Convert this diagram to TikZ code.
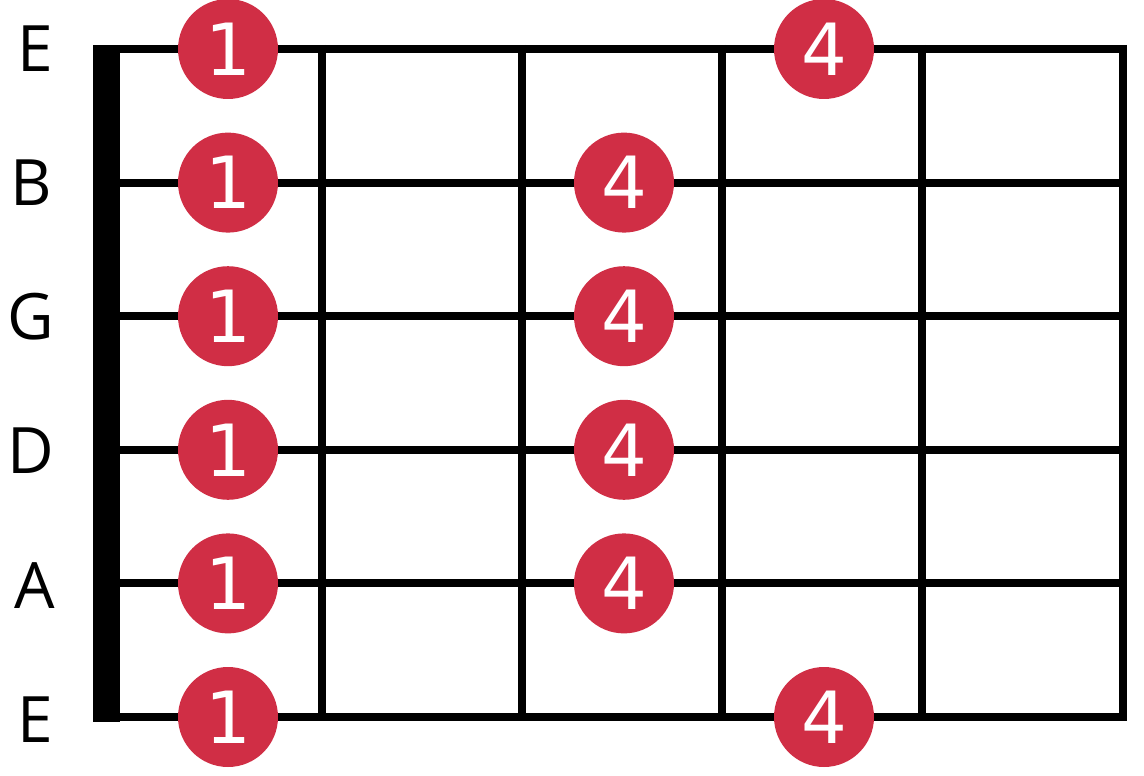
\documentclass[tikz,border=0pt]{standalone}
\usepackage{fontspec}
\setmainfont{DejaVu Sans}
\newfontfamily\labelfont{Open Sans}
\definecolor{dotred}{HTML}{D02E45}
\begin{document}
\begin{tikzpicture}[x=1pt,y=-1pt,
  gridline/.style={line width=8pt,black},
  dot/.style={circle,fill=dotred,minimum size=100pt,inner sep=0pt,text=white,font=\fontsize{72}{72}\selectfont},
  strlabel/.style={font=\labelfont\fontsize{64}{64}\selectfont,text=black,inner sep=0pt}]
\useasboundingbox (0,0) rectangle (1144,776);
% strings
\foreach \i/\y in {1/49,2/182.6,3/316.2,4/449.8,5/583.4,6/717}{
  \coordinate (s\i) at (110,\y);
  \coordinate (e\i) at (1127,\y);
  \draw[gridline] (s\i) -- (e\i);
}
% frets
\foreach \j/\x in {1/322,2/522,3/722,4/922,5/1123}{
  \coordinate (ft\j) at (\x,45);
  \coordinate (fb\j) at (\x,721);
  \draw[gridline] (ft\j) -- (fb\j);
}
% nut
\node[fill=black,inner sep=0pt,minimum width=27pt,minimum height=677pt,anchor=north west] (nut) at (93,45) {};
% labels
\node[strlabel] (l1) at (35,49) {E};
\node[strlabel] (l2) at (31,183) {B};
\node[strlabel] (l3) at (31,317) {G};
\node[strlabel] (l4) at (31,451) {D};
\node[strlabel] (l5) at (35,586) {A};
\node[strlabel] (l6) at (35,720) {E};
% dots
\node[dot] (d11) at (228,49) {1};
\node[dot] (d21) at (228,182.6) {1};
\node[dot] (d31) at (228,316.2) {1};
\node[dot] (d41) at (228,449.8) {1};
\node[dot] (d51) at (228,583.4) {1};
\node[dot] (d61) at (228,717) {1};
\node[dot] (d14) at (824,49) {4};
\node[dot] (d24) at (624,182.6) {4};
\node[dot] (d34) at (624,316.2) {4};
\node[dot] (d44) at (624,449.8) {4};
\node[dot] (d54) at (624,583.4) {4};
\node[dot] (d64) at (824,717) {4};
\end{tikzpicture}
\end{document}
